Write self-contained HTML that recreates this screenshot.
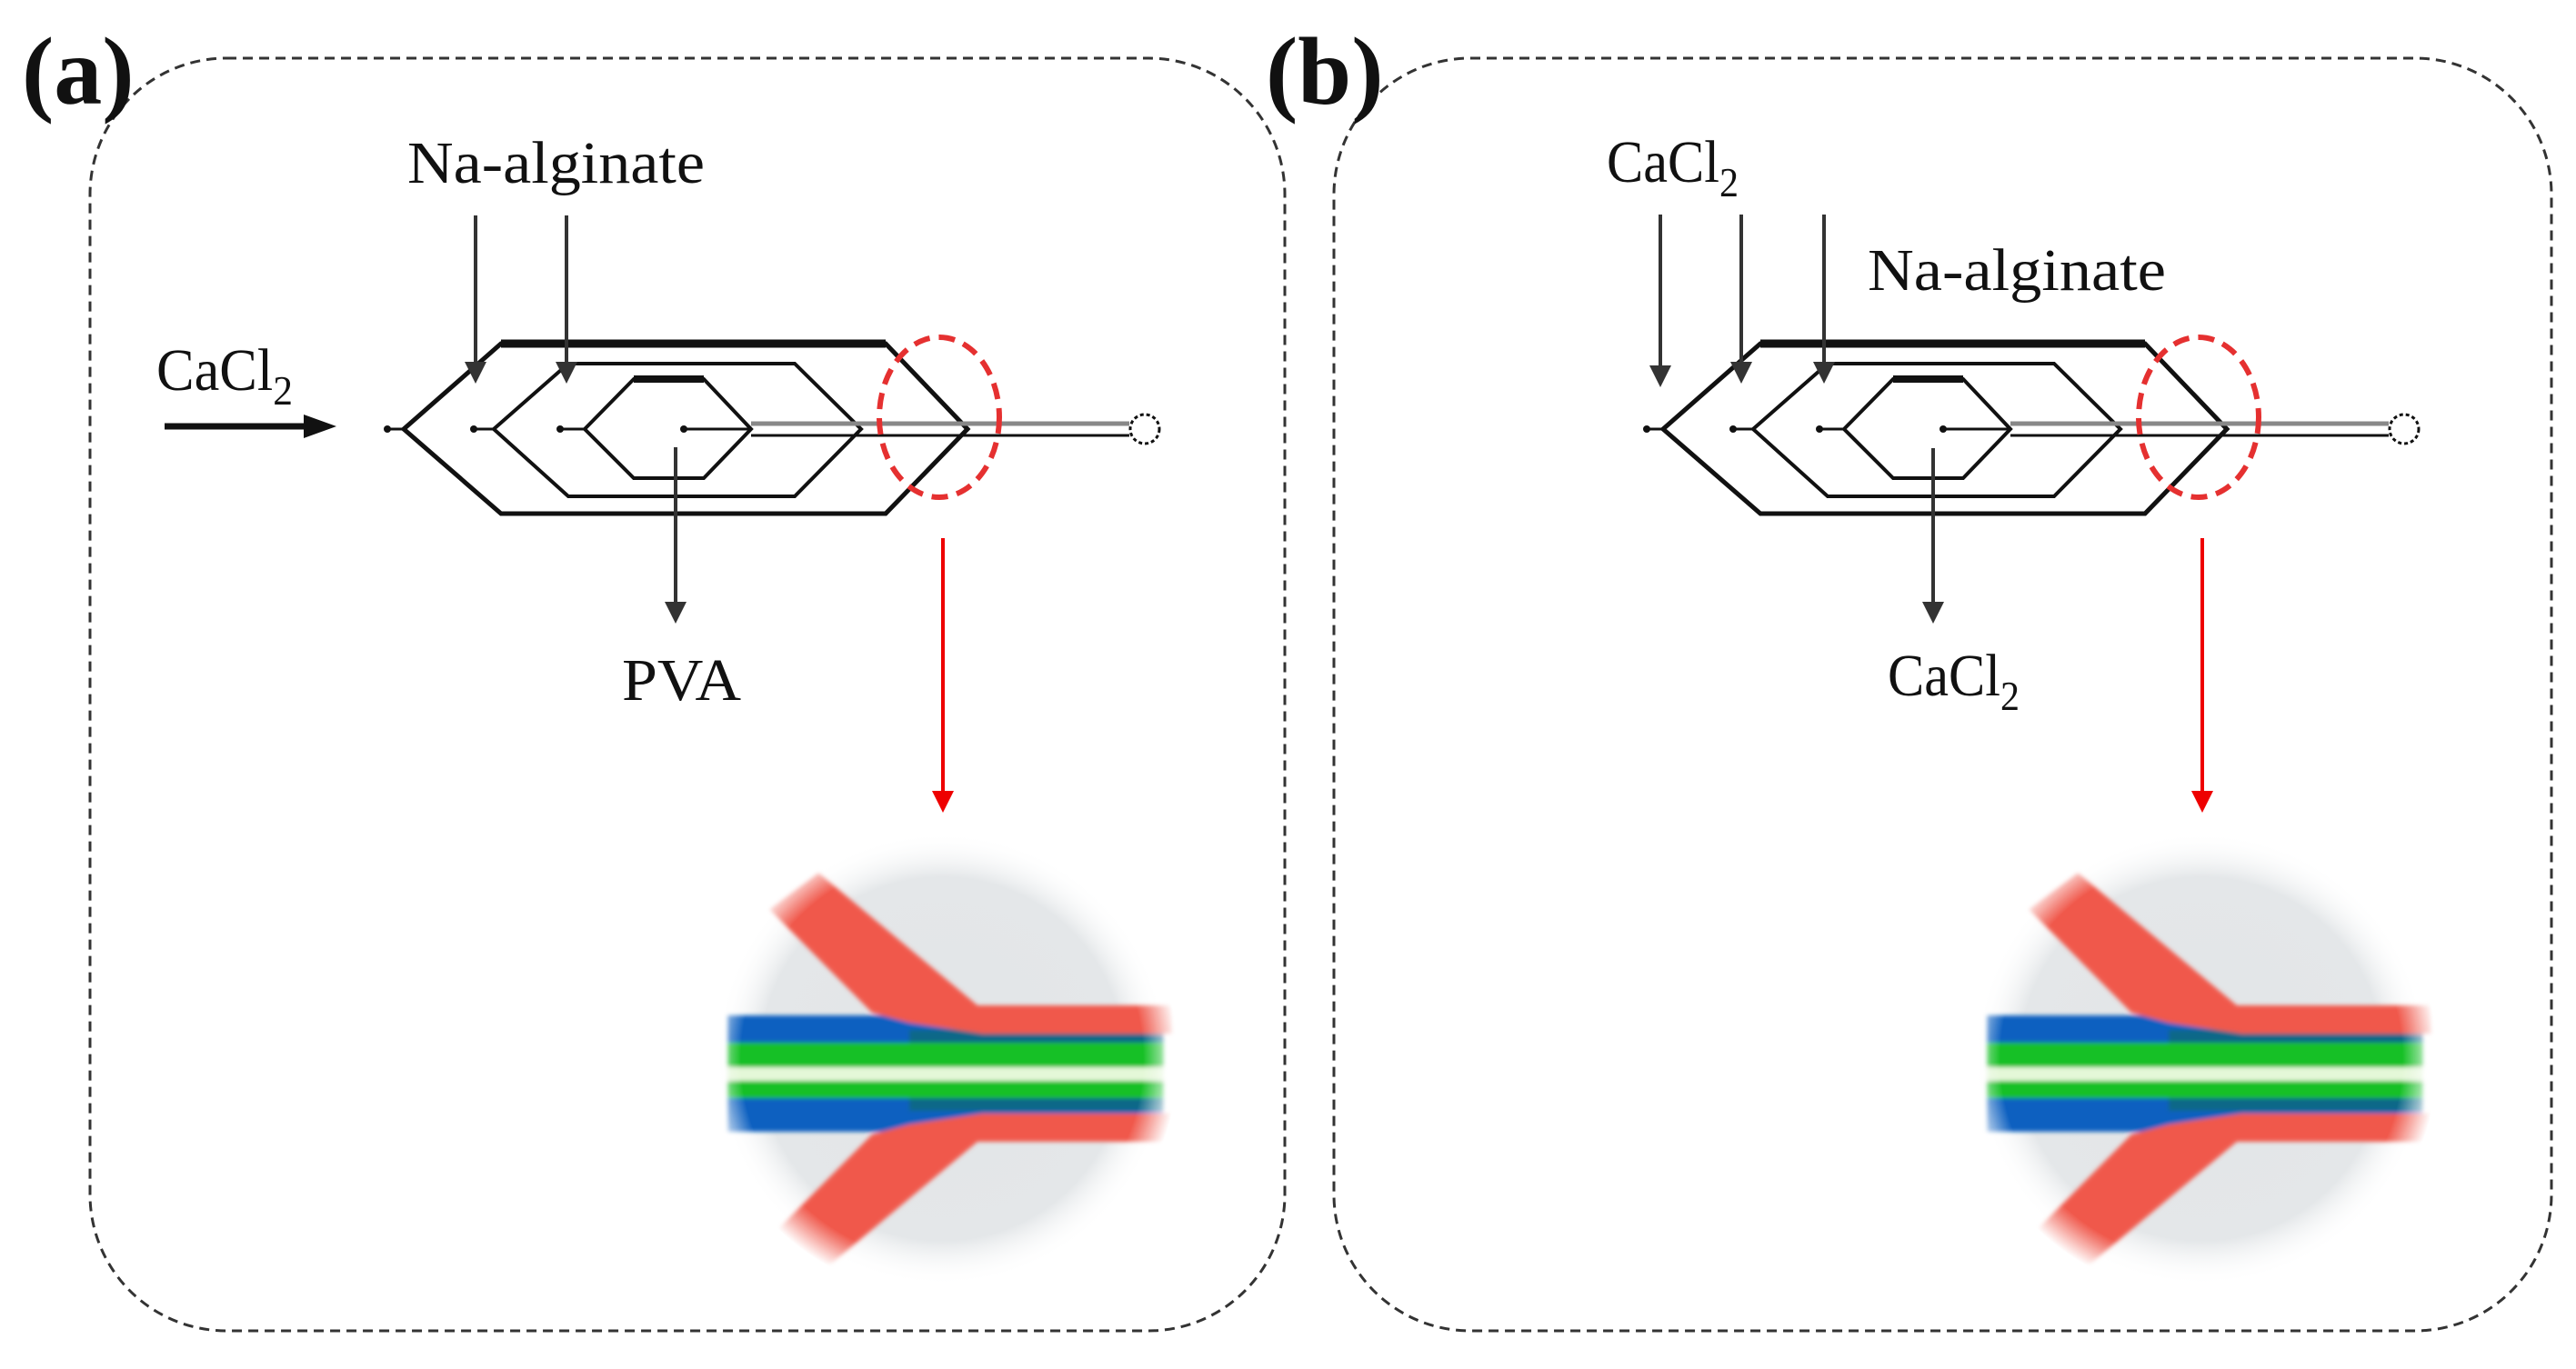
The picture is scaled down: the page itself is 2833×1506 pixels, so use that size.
<!DOCTYPE html>
<html><head><meta charset="utf-8"><style>
html,body{margin:0;padding:0;background:#fff;}
svg{display:block;}
text{font-family:"Liberation Serif",serif;fill:#111;}
</style></head><body>
<svg width="2833" height="1506" viewBox="0 0 2833 1506" xmlns="http://www.w3.org/2000/svg">
<defs>
<marker id="ah" markerWidth="6" markerHeight="6" refX="5" refY="3" orient="auto" markerUnits="strokeWidth"><path d="M0,0 L6,3 L0,6 Z" fill="#333"/></marker>
<marker id="ahr" markerWidth="6" markerHeight="6" refX="5" refY="3" orient="auto" markerUnits="strokeWidth"><path d="M0,0 L6,3 L0,6 Z" fill="#e00"/></marker>
<radialGradient id="bg" cx="0.5" cy="0.5" r="0.5">
<stop offset="0" stop-color="#e2e5e7"/><stop offset="0.8" stop-color="#e4e7e9"/><stop offset="1" stop-color="#fff" stop-opacity="0"/>
</radialGradient>
<radialGradient id="mg" cx="0.5" cy="0.5" r="0.5">
<stop offset="0" stop-color="#fff"/><stop offset="0.85" stop-color="#fff"/><stop offset="1" stop-color="#000"/>
</radialGradient>
<mask id="mk" maskUnits="userSpaceOnUse" x="700" y="850" width="700" height="650"><circle cx="1036" cy="1165" r="260" fill="url(#mg)"/></mask>
<filter id="bl"><feGaussianBlur stdDeviation="2.5"/></filter>
<g id="chip">
<g fill="none" stroke="#111" stroke-linejoin="miter">
<path d="M444,472 L551,378 L974,378 L1064,472 L974,565 L551,565 Z" stroke-width="5"/>
<line x1="551" y1="378" x2="974" y2="378" stroke-width="9"/>
<path d="M543,472 L625,400 L874,400 L947,472 L874,546 L625,546 Z" stroke-width="4"/>
<path d="M643,472 L697,417 L774,417 L826,472 L774,526 L697,526 Z" stroke-width="4"/>
<line x1="697" y1="417" x2="774" y2="417" stroke-width="8"/>
<line x1="426" y1="472" x2="444" y2="472" stroke-width="3"/>
<line x1="521" y1="472" x2="543" y2="472" stroke-width="3"/>
<line x1="616" y1="472" x2="643" y2="472" stroke-width="3"/>
<line x1="826" y1="466" x2="1242" y2="466" stroke="#888" stroke-width="5"/>
<line x1="752" y1="472" x2="826" y2="472" stroke-width="3"/>
<line x1="826" y1="479" x2="1242" y2="479" stroke-width="3"/>
<circle cx="1259" cy="472" r="16" stroke-width="3" stroke-dasharray="4 3"/>
</g>
<g fill="#111"><circle cx="426" cy="472" r="4"/><circle cx="521" cy="472" r="4"/><circle cx="616" cy="472" r="4"/><circle cx="752" cy="472" r="4"/></g>
<ellipse cx="1033" cy="459" rx="66" ry="88" fill="none" stroke="#e53030" stroke-width="6" stroke-dasharray="18 10"/>
<line x1="1037" y1="592" x2="1037" y2="890" stroke="#e00" stroke-width="4" marker-end="url(#ahr)"/>
<circle cx="1036" cy="1165" r="250" fill="url(#bg)"/>
<g mask="url(#mk)"><g filter="url(#bl)">
<rect x="800" y="1117" width="480" height="32" fill="#1060c0"/>
<rect x="800" y="1147" width="480" height="28" fill="#18c028"/>
<rect x="800" y="1174" width="480" height="15" fill="#e4f8d8"/>
<rect x="800" y="1189" width="480" height="20" fill="#18c028"/>
<rect x="800" y="1208" width="480" height="37" fill="#1060c0"/>
<rect x="1000" y="1133" width="280" height="14" fill="#106888"/>
<rect x="1000" y="1208" width="280" height="14" fill="#106888"/>
<path d="M846,1000 L900,960 L1075,1106 L1290,1106 L1290,1137 L1080,1137 L1000,1125 L959,1114 Z" fill="#f0584c"/>
<path d="M846,1362 L900,1402 L1075,1256 L1290,1256 L1290,1225 L1080,1225 L1000,1237 L959,1248 Z" fill="#f0584c"/>
</g></g>
</g>
</defs>
<rect width="2833" height="1506" fill="#fff"/>
<rect x="99" y="64" width="1314" height="1400" rx="150" fill="none" stroke="#333" stroke-width="3" stroke-dasharray="11 7"/>
<rect x="1467" y="64" width="1339" height="1400" rx="150" fill="none" stroke="#333" stroke-width="3" stroke-dasharray="11 7"/>
<text x="24" y="114" font-size="106" font-weight="bold">(a)</text>
<text x="1392" y="114" font-size="106" font-weight="bold">(b)</text>
<use href="#chip"/>
<use href="#chip" transform="translate(1385,0)"/>
<text x="448" y="201" font-size="66" textLength="327" lengthAdjust="spacingAndGlyphs">Na-alginate</text>
<text x="172" y="429" font-size="66" textLength="150" lengthAdjust="spacingAndGlyphs">CaCl<tspan font-size="46" dy="16">2</tspan></text>
<text x="684" y="770" font-size="66" textLength="131" lengthAdjust="spacingAndGlyphs">PVA</text>
<g stroke="#333" stroke-width="4" fill="none">
<line x1="523" y1="237" x2="523" y2="418" marker-end="url(#ah)"/>
<line x1="623" y1="237" x2="623" y2="418" marker-end="url(#ah)"/>
<line x1="743" y1="492" x2="743" y2="682" marker-end="url(#ah)"/>
<line x1="181" y1="469" x2="340" y2="469" stroke="#111" stroke-width="7"/>
</g>
<path d="M334,456 L370,469 L334,482 Z" fill="#111"/>
<text x="1767" y="200" font-size="66" textLength="145" lengthAdjust="spacingAndGlyphs">CaCl<tspan font-size="46" dy="16">2</tspan></text>
<text x="2054" y="319" font-size="66" textLength="328" lengthAdjust="spacingAndGlyphs">Na-alginate</text>
<text x="2076" y="765" font-size="66" textLength="145" lengthAdjust="spacingAndGlyphs">CaCl<tspan font-size="46" dy="16">2</tspan></text>
<g stroke="#333" stroke-width="4" fill="none">
<line x1="1826" y1="236" x2="1826" y2="422" marker-end="url(#ah)"/>
<line x1="1915" y1="236" x2="1915" y2="418" marker-end="url(#ah)"/>
<line x1="2006" y1="236" x2="2006" y2="418" marker-end="url(#ah)"/>
<line x1="2126" y1="493" x2="2126" y2="682" marker-end="url(#ah)"/>
</g>
</svg>
</body></html>
